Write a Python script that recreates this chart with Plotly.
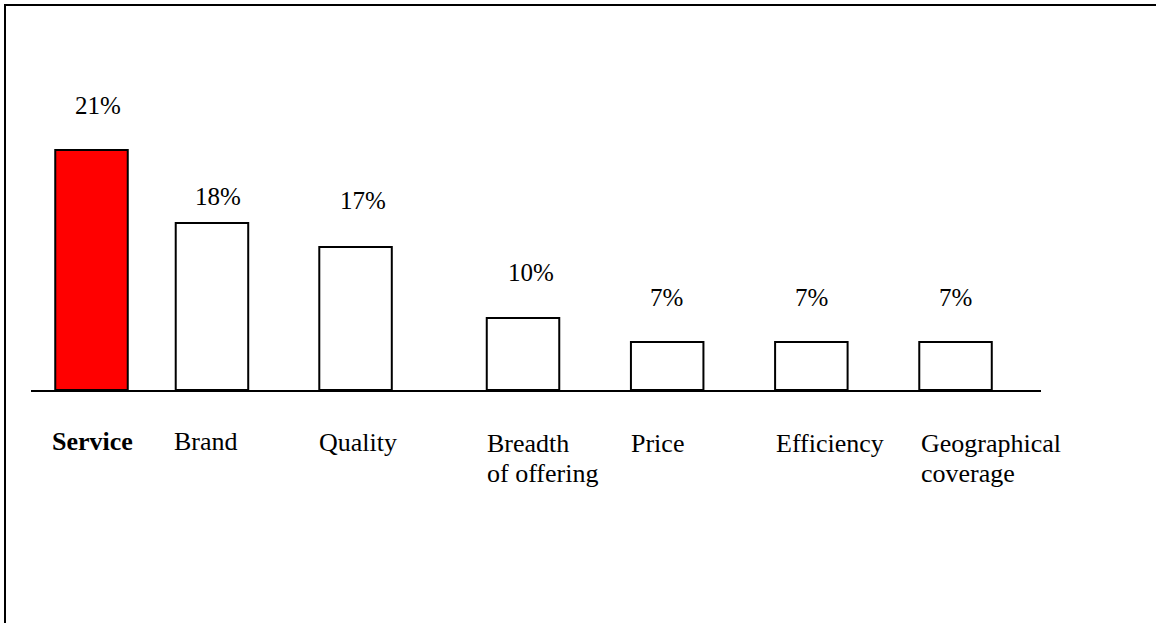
import plotly.graph_objects as go

# ---- data ----
categories = ["Service", "Brand", "Quality", "Breadth<br>of offering", "Price", "Efficiency", "Geographical<br>coverage"]
share_labels = ["21%", "18%", "17%", "10%", "7%", "7%", "7%"]
bar_heights = [10, 6.96, 5.96, 3, 2, 2, 2]   # drawn bar heights (relative units)

# ---- style ----
W, H = 1156, 623
px_per_cat = 144.17
px_per_unit = 24.0
base_px = 390
plot_left_px, plot_right_px, plot_top_px = 31, 1041, 100
bar_w = 72.5 / px_per_cat
nudge_px = [1, -22.7, -23.3, 0, 0, 0, 0]          # horizontal nudges of bars
pct_dx = [6.5, 6.5, 7, 7.5, -1, 0, 0]             # nudges of % labels vs bar centre
pct_gap = [45, 26, 46, 46, 45, 45, 45]            # gap between bar top and % label centre
cat_dx = [-3, -1, 0, 0, 0, 1, 2]                  # nudges of category labels vs bar left
cat_dy = [0, 0, -1, -2, -2, -2, -2]
LINE_GAP = 30
colors = ["#FF0000"] + ["#FFFFFF"] * 6
FONT = "Liberation Serif, Times New Roman, Tinos, DejaVu Serif, serif"
PCT_SIZE = 25
CAT_SIZE = 26

x_idx = list(range(len(categories)))
offsets = [-bar_w / 2 + n / px_per_cat for n in nudge_px]

fig = go.Figure(go.Bar(
    x=x_idx, y=bar_heights, width=bar_w, offset=offsets,
    marker=dict(color=colors, line=dict(color="black", width=2)),
    hoverinfo="skip",
))

a = -(90.5 - plot_left_px) / px_per_cat
b = a + (plot_right_px - plot_left_px) / px_per_cat

annotations = []
for i in x_idx:
    annotations.append(dict(
        x=i, y=bar_heights[i], xref="x", yref="y", text=share_labels[i], showarrow=False,
        xanchor="center", yanchor="middle", xshift=nudge_px[i] + pct_dx[i], yshift=pct_gap[i],
        font=dict(family=FONT, size=PCT_SIZE, color="black"),
    ))
    for k, line in enumerate(categories[i].split("<br>")):
        txt = "<b>" + line + "</b>" if i == 0 else line
        annotations.append(dict(
            x=i, y=0, xref="x", yref="y", text=txt, showarrow=False, align="left",
            xanchor="left", yanchor="top", xshift=nudge_px[i] - 36.5 + cat_dx[i] - 2,
            yshift=-35 + cat_dy[i] - k * LINE_GAP,
            font=dict(family=FONT, size=CAT_SIZE, color="black"),
        ))

fig.update_layout(
    width=W, height=H, margin=dict(l=0, r=0, t=0, b=0),
    font=dict(family=FONT),
    paper_bgcolor="white", plot_bgcolor="white", showlegend=False,
    xaxis=dict(domain=[plot_left_px / W, plot_right_px / W], range=[a, b],
               showline=True, linecolor="black", linewidth=2, showgrid=False,
               zeroline=False, showticklabels=False, ticks=""),
    yaxis=dict(domain=[(H - base_px) / H, (H - plot_top_px) / H],
               range=[0, (base_px - plot_top_px) / px_per_unit],
               visible=False, showgrid=False, zeroline=False),
    annotations=annotations,
    shapes=[
        dict(type="line", xref="paper", yref="paper", x0=5 / W, x1=5 / W, y0=0, y1=1 - 5 / H,
             line=dict(color="black", width=2)),
        dict(type="line", xref="paper", yref="paper", x0=4 / W, x1=1, y0=1 - 5 / H, y1=1 - 5 / H,
             line=dict(color="black", width=2)),
    ],
)

fig.write_html("out.html")
